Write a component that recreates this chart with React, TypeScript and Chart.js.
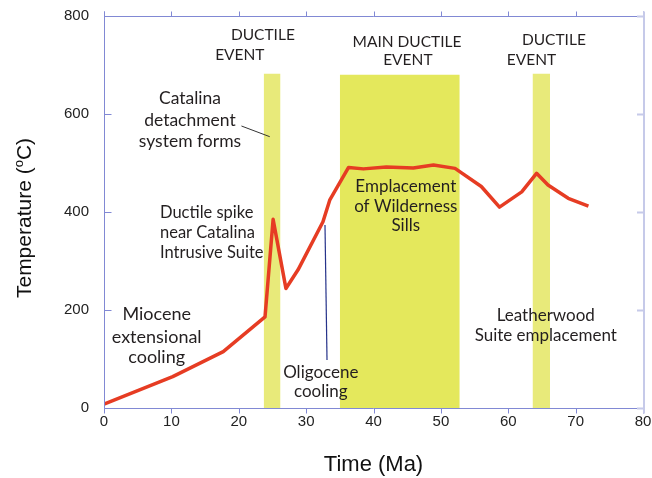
import { useEffect, useRef } from "react";
import { Chart, registerables } from "chart.js";
Chart.register(...registerables);

// ---- data ----
const xTickValues = [0, 10, 20, 30, 40, 50, 60, 70, 80];
const yTickValues = [0, 200, 400, 600, 800];

const timeMa = [0, 10.2, 17.7, 23.9, 25.1, 27.0, 28.8, 32.5, 33.5, 36.3, 38.5, 41.9, 45.9, 48.9, 52.1, 56.0, 58.7, 62.0, 64.2, 65.9, 68.9, 71.9];
const tempC = [8, 64, 115, 186, 385, 244, 282, 380, 424, 491, 488, 492, 490, 496, 489, 452, 410, 441, 479, 455, 428, 412];

// ductile event bands: [start, end, top]
const bandStart = [23.7, 35.0, 63.6];
const bandEnd = [26.2, 52.8, 66.2];
const bandTop = [682, 680, 682];

// leader lines
const leader1X = [20.4, 24.6];
const leader1Y = [575.5, 553.7];
const leader2X = [32.8, 33.1];
const leader2Y = [373.5, 98];

// annotation texts (anchored in data coords)
const noteText = ["DUCTILE", "EVENT", "MAIN DUCTILE", "EVENT", "DUCTILE", "EVENT",
  "Catalina", "detachment", "system forms",
  "Ductile spike", "near Catalina", "Intrusive Suite",
  "Miocene", "extensional", "cooling",
  "Oligocene", "cooling",
  "Emplacement", "of Wilderness", "Sills",
  "Leatherwood", "Suite emplacement"];
const noteX = [23.58, 20.16, 44.97, 45.1, 66.77, 63.45,
  12.76, 12.76, 12.76,
  8.31, 8.31, 8.31,
  7.82, 7.82, 7.82,
  32.18, 32.18,
  44.79, 44.79, 44.79,
  65.57, 65.57];
const noteY = [751, 710, 737, 700, 741, 700,
  620, 575.5, 532.7,
  387, 346, 306,
  179.6, 133.3, 91.2,
  60.6, 23.1,
  441.4, 400.6, 361.8,
  178.2, 137.3];
const noteSize = [15.5, 15.5, 15.5, 15.5, 15.5, 15.5,
  17.5, 17.5, 17.5,
  16.5, 16.5, 16.5,
  18, 18, 18,
  17, 17,
  17, 17, 17,
  17, 17];
const noteAlign = ["center", "center", "center", "center", "center", "center",
  "center", "center", "center",
  "left", "left", "left",
  "center", "center", "center",
  "center", "center",
  "center", "center", "center",
  "center", "center"];

const AXIS = "#8189d4";
const AXIS_R = "#c6cae9";
const TEXT = "#231f20";
const NOTE_FONT = "Lato, 'Open Sans', sans-serif";
const AXIS_FONT = "'Liberation Sans', Arial, sans-serif";

const framePlugin = {
  id: "frame",
  afterDatasetsDraw(chart: any) {
    const { ctx, chartArea, scales } = chart;
    const { left, right, top, bottom } = chartArea;
    const x = scales.x, y = scales.y;
    ctx.save();
    ctx.strokeStyle = AXIS;
    ctx.lineWidth = 1;
    ctx.beginPath();
    const L = Math.round(left) + 0.5;
    const B = Math.round(bottom) + 0.5;
    const T = Math.round(top) + 0.5;
    ctx.moveTo(L, T - 5);
    ctx.lineTo(L, B);
    ctx.moveTo(L, B);
    ctx.lineTo(right, B);
    ctx.moveTo(L, T);
    ctx.lineTo(right, T);
    xTickValues.forEach((v) => {
      const px = Math.round(x.getPixelForValue(v)) + 0.5;
      ctx.moveTo(px, T - 5);
      ctx.lineTo(px, T);
      ctx.moveTo(px, B);
      ctx.lineTo(px, B + 5);
    });
    yTickValues.forEach((v) => {
      const py = Math.round(y.getPixelForValue(v)) + 0.5;
      ctx.moveTo(L, py);
      ctx.lineTo(L + 7, py);
    });
    ctx.stroke();
    ctx.strokeStyle = AXIS_R;
    ctx.lineWidth = 2;
    ctx.beginPath();
    ctx.moveTo(right + 1, T - 5);
    ctx.lineTo(right + 1, B + 5);
    yTickValues.forEach((v) => {
      const py = Math.round(y.getPixelForValue(v)) + 0.5;
      ctx.moveTo(right - 6, py);
      ctx.lineTo(right, py);
    });
    ctx.stroke();

    // annotations
    ctx.fillStyle = TEXT;
    ctx.textBaseline = "alphabetic";
    noteText.forEach((t, i) => {
      ctx.font = `${noteSize[i]}px ${NOTE_FONT}`;
      ctx.textAlign = noteAlign[i] as CanvasTextAlign;
      ctx.fillText(t, x.getPixelForValue(noteX[i]), y.getPixelForValue(noteY[i]));
    });

    // axis titles
    ctx.font = `22px ${AXIS_FONT}`;
    ctx.textAlign = "center";
    ctx.textBaseline = "middle";
    ctx.fillStyle = "#111";
    ctx.fillText("Time (Ma)", (left + right) / 2, 465);

    ctx.save();
    ctx.translate(23, 218);
    ctx.rotate(-Math.PI / 2);
    ctx.font = `21px ${AXIS_FONT}`;
    const p1 = "Temperature (";
    const p2 = "o";
    const p3 = "C)";
    const w1 = ctx.measureText(p1).width;
    const w3 = ctx.measureText(p3).width;
    ctx.font = `13px ${AXIS_FONT}`;
    const w2 = ctx.measureText(p2).width;
    const total = w1 + w2 + w3;
    let cx = -total / 2;
    ctx.textAlign = "left";
    ctx.textBaseline = "alphabetic";
    ctx.font = `21px ${AXIS_FONT}`;
    ctx.fillText(p1, cx, 8);
    cx += w1;
    ctx.font = `13px ${AXIS_FONT}`;
    ctx.fillText(p2, cx, 0);
    cx += w2;
    ctx.font = `21px ${AXIS_FONT}`;
    ctx.fillText(p3, cx, 8);
    ctx.restore();
    ctx.restore();
  },
};

export default function App() {
  const ref = useRef<HTMLCanvasElement | null>(null);
  useEffect(() => {
    if (!ref.current) return;
    const bandColors = ["#e8ea7a", "#e4e85c", "#e8ea7a"];
    const bandSets = bandStart.map((s, i) => ({
      data: [
        { x: s, y: bandTop[i] },
        { x: bandEnd[i], y: bandTop[i] },
      ],
      borderWidth: 0,
      borderColor: "rgba(0,0,0,0)",
      backgroundColor: bandColors[i],
      fill: "origin",
      pointRadius: 0,
      order: 10,
    }));
    const chart = new Chart(ref.current, {
      type: "line",
      data: {
        datasets: [
          ...bandSets,
          {
            data: leader1X.map((v, i) => ({ x: v, y: leader1Y[i] })),
            borderColor: "#333333",
            borderWidth: 1,
            pointRadius: 0,
            fill: false,
            order: 2,
          },
          {
            data: leader2X.map((v, i) => ({ x: v, y: leader2Y[i] })),
            borderColor: "#26338a",
            borderWidth: 1.2,
            pointRadius: 0,
            fill: false,
            order: 2,
          },
          {
            data: timeMa.map((v, i) => ({ x: v, y: tempC[i] })),
            borderColor: "#e63c23",
            borderWidth: 3.5,
            pointRadius: 0,
            fill: false,
            tension: 0,
            borderJoinStyle: "round",
            order: 1,
          },
        ] as any,
      },
      options: {
        responsive: false,
        animation: false,
        events: [],
        layout: { padding: { left: 0, right: 9, top: 16, bottom: 0 } },
        plugins: {
          legend: { display: false },
          tooltip: { enabled: false },
          title: { display: false },
        },
        scales: {
          x: {
            type: "linear",
            min: 0,
            max: 80,
            afterFit: (s: any) => {
              s.height = 70;
              s.paddingLeft = 0;
              s.paddingRight = 0;
            },
            afterBuildTicks: (s: any) => {
              s.ticks = xTickValues.map((v) => ({ value: v }));
            },
            grid: { display: false, drawTicks: false },
            border: { display: false },
            ticks: {
              autoSkip: false,
              maxRotation: 0,
              padding: 5,
              color: "#222",
              font: { family: AXIS_FONT, size: 15 },
            },
          },
          y: {
            type: "linear",
            min: 0,
            max: 800,
            afterFit: (s: any) => {
              s.width = 104;
              s.paddingTop = 0;
              s.paddingBottom = 0;
            },
            afterBuildTicks: (s: any) => {
              s.ticks = yTickValues.map((v) => ({ value: v }));
            },
            grid: { display: false, drawTicks: false },
            border: { display: false },
            ticks: {
              padding: 15,
              color: "#222",
              font: { family: AXIS_FONT, size: 15 },
            },
          },
        },
      },
      plugins: [framePlugin],
    });
    return () => chart.destroy();
  }, []);
  return (
    <div style={{ position: "fixed", left: 0, top: 0, width: 652, height: 478, background: "#fff" }}>
      <canvas ref={ref} width={652} height={478} style={{ width: 652, height: 478, display: "block" }} />
    </div>
  );
}
